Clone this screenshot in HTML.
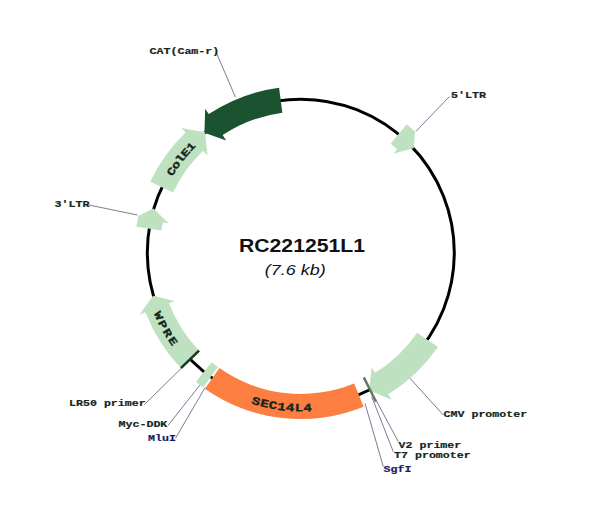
<!DOCTYPE html>
<html><head><meta charset="utf-8"><title>RC221251L1</title>
<style>
html,body{margin:0;padding:0;background:#fff;}
body{width:600px;height:505px;overflow:hidden;font-family:"Liberation Sans",sans-serif;}
svg{display:block;}
</style></head><body>
<svg width="600" height="505" viewBox="0 0 600 505" font-family="'Liberation Mono', monospace" font-weight="bold"><circle cx="300.8" cy="252.7" r="153.5" fill="none" stroke="#000" stroke-width="3.0"/>
<path d="M279.08,87.72 A166.40,166.40 0 0 0 208.72,114.10 L205.17,108.77 L204.43,132.84 L226.20,140.42 L222.66,135.09 A141.20,141.20 0 0 1 282.37,112.71 Z" fill="#1b5230"/>
<path d="M150.24,181.85 A166.40,166.40 0 0 1 185.63,132.60 L181.20,127.98 L205.06,132.33 L207.50,155.41 L203.07,150.79 A141.20,141.20 0 0 0 173.04,192.58 Z" fill="#bee2c0"/>
<path d="M136.45,226.67 A166.40,166.40 0 0 1 138.34,216.68 L136.98,216.38 L153.49,208.50 L168.71,223.42 L162.95,222.14 A141.20,141.20 0 0 0 161.34,230.61 Z" fill="#bee2c0"/>
<path d="M181.10,368.29 A166.40,166.40 0 0 1 145.45,312.33 L139.48,314.63 L153.18,295.87 L174.95,301.01 L168.98,303.30 A141.20,141.20 0 0 0 199.23,350.79 Z" fill="#bee2c0"/>
<line x1="199.06" y1="350.61" x2="180.90" y2="368.08" stroke="#143a22" stroke-width="2.6"/>
<path d="M203.23,387.49 A166.40,166.40 0 0 1 195.86,381.83 L211.75,362.28 A141.20,141.20 0 0 0 218.00,367.08 Z" fill="#bee2c0"/>
<path d="M363.67,406.76 A166.40,166.40 0 0 1 204.88,388.67 L219.41,368.08 A141.20,141.20 0 0 0 354.15,383.43 Z" fill="#fc7e40"/>
<path d="M437.93,346.95 A166.40,166.40 0 0 1 388.24,394.27 L391.60,399.72 L369.18,390.46 L371.63,367.39 L375.00,372.83 A141.20,141.20 0 0 0 417.17,332.68 Z" fill="#bee2c0"/>
<path d="M406.64,124.30 A166.40,166.40 0 0 1 414.28,131.00 L415.24,129.98 L413.65,148.20 L393.07,153.75 L397.10,149.43 A141.20,141.20 0 0 0 390.61,143.75 Z" fill="#bee2c0"/>
<line x1="363.79" y1="377.39" x2="376.05" y2="401.67" stroke="#5d7a5e" stroke-width="2.4"/>
<g font-size="13.5" fill="#14261d" stroke="#14261d" stroke-width="0.45" text-anchor="middle"><text x="0" y="0" transform="translate(171.19,171.40) rotate(-57.90) scale(1,0.800)" dy="4.64">C</text><text x="0" y="0" transform="translate(175.55,164.83) rotate(-54.95) scale(1,0.800)" dy="4.64">o</text><text x="0" y="0" transform="translate(180.23,158.50) rotate(-52.00) scale(1,0.800)" dy="4.64">l</text><text x="0" y="0" transform="translate(185.24,152.42) rotate(-49.05) scale(1,0.800)" dy="4.64">E</text><text x="0" y="0" transform="translate(190.56,146.61) rotate(-46.10) scale(1,0.800)" dy="4.64">1</text></g>
<g font-size="13.5" fill="#14261d" stroke="#14261d" stroke-width="0.45" text-anchor="middle"><text x="0" y="0" transform="translate(158.76,315.49) rotate(66.15) scale(1,0.800)" dy="4.64">W</text><text x="0" y="0" transform="translate(162.98,324.29) rotate(62.55) scale(1,0.800)" dy="4.64">P</text><text x="0" y="0" transform="translate(167.75,332.80) rotate(58.95) scale(1,0.800)" dy="4.64">R</text><text x="0" y="0" transform="translate(173.04,341.00) rotate(55.35) scale(1,0.800)" dy="4.64">E</text></g>
<g font-size="14" fill="#14261d" stroke="#14261d" stroke-width="0.45" text-anchor="middle"><text x="0" y="0" transform="translate(256.24,400.95) rotate(376.73) scale(1,0.800)" dy="4.82">S</text><text x="0" y="0" transform="translate(264.61,403.21) rotate(373.52) scale(1,0.800)" dy="4.82">E</text><text x="0" y="0" transform="translate(273.09,405.00) rotate(370.31) scale(1,0.800)" dy="4.82">C</text><text x="0" y="0" transform="translate(281.67,406.31) rotate(367.10) scale(1,0.800)" dy="4.82">1</text><text x="0" y="0" transform="translate(290.30,407.14) rotate(363.89) scale(1,0.800)" dy="4.82">4</text><text x="0" y="0" transform="translate(298.96,407.49) rotate(360.68) scale(1,0.800)" dy="4.82">L</text><text x="0" y="0" transform="translate(307.63,407.35) rotate(357.47) scale(1,0.800)" dy="4.82">4</text></g>
<g stroke="#7d7b96" stroke-width="1"><line x1="215.8" y1="51.5" x2="235.4" y2="97.0"/><line x1="449.3" y1="96.7" x2="416.0" y2="131.3"/><line x1="88.8" y1="205.0" x2="137.5" y2="215.0"/><line x1="144.4" y1="404.6" x2="181.4" y2="368.2"/><line x1="168.0" y1="425.5" x2="200.0" y2="385.0"/><line x1="175.5" y1="438.3" x2="205.0" y2="387.7"/><line x1="443.3" y1="415.0" x2="410.0" y2="378.3"/><line x1="398.3" y1="441.7" x2="373.3" y2="395.0"/><line x1="393.3" y1="451.7" x2="371.7" y2="396.7"/><line x1="383.3" y1="466.7" x2="365.0" y2="403.3"/></g>
<g font-size="12" font-weight="bold" stroke-width="0.25"><text transform="translate(149.50,54.40) scale(0.970,0.800)" fill="#14261d" stroke="#14261d">CAT(Cam-r)</text><text transform="translate(451.00,97.80) scale(0.970,0.800)" fill="#14261d" stroke="#14261d">5'LTR</text><text transform="translate(54.50,207.10) scale(0.970,0.800)" fill="#14261d" stroke="#14261d">3'LTR</text><text transform="translate(69.00,405.90) scale(0.970,0.800)" fill="#14261d" stroke="#14261d">LR50 primer</text><text transform="translate(118.50,426.90) scale(0.970,0.800)" fill="#14261d" stroke="#14261d">Myc-DDK</text><text transform="translate(148.00,441.40) scale(0.970,0.800)" fill="#1a1a62" stroke="#1a1a62">MluI</text><text transform="translate(443.50,416.90) scale(0.970,0.800)" fill="#14261d" stroke="#14261d">CMV promoter</text><text transform="translate(398.50,447.60) scale(0.970,0.800)" fill="#14261d" stroke="#14261d">V2 primer</text><text transform="translate(394.00,458.40) scale(0.970,0.800)" fill="#14261d" stroke="#14261d">T7 promoter</text><text transform="translate(383.50,471.60) scale(0.970,0.800)" fill="#1a1a62" stroke="#1a1a62">SgfI</text></g>
<text x="302" y="251.8" text-anchor="middle" font-family="'Liberation Sans', sans-serif" font-size="18" font-weight="bold" fill="#111" textLength="126" lengthAdjust="spacingAndGlyphs">RC221251L1</text>
<text x="295.3" y="274.5" text-anchor="middle" font-family="'Liberation Sans', sans-serif" font-size="15" font-weight="normal" font-style="italic" fill="#111" textLength="61" lengthAdjust="spacingAndGlyphs">(7.6 kb)</text></svg>
</body></html>
